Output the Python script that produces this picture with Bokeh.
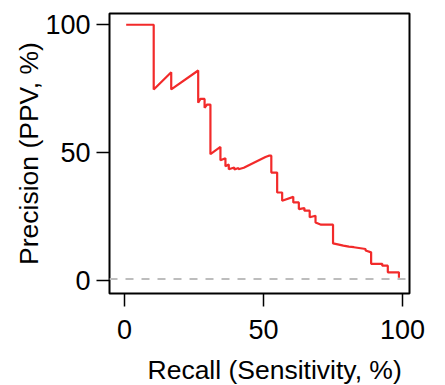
from bokeh.plotting import figure
from bokeh.models import FixedTicker, Span, Range1d, Title
from bokeh.embed import file_html
from bokeh.resources import INLINE

recall = [0.6, 10.5, 10.5, 16.8, 16.8, 26.5, 26.5, 27.3, 28.8, 28.8, 29.7, 30.9, 30.9,
          34.5, 34.5, 36.3, 36.3, 37.5, 37.5, 39.5, 39.5, 41.0, 41.0, 42.9, 50.7, 51.9,
          52.8, 52.8, 54.9, 54.9, 56.7, 56.7, 60.7, 60.7, 62.7, 62.7, 64.7, 64.7, 66.6,
          66.6, 68.7, 68.7, 70.7, 75.0, 75.0, 77.1, 78.7, 80.7, 82.5, 84.9, 86.7, 86.7,
          88.7, 88.7, 92.7, 92.7, 94.7, 94.7, 98.7, 98.7]
precision = [100.0, 100.0, 74.7, 81.4, 74.7, 82.1, 69.5, 71.0, 71.0, 67.5, 68.8, 68.8, 49.4,
             52.2, 47.0, 47.8, 44.7, 45.3, 43.5, 44.2, 43.4, 44.0, 43.5, 44.1, 48.3, 48.8,
             48.8, 42.2, 42.2, 34.4, 34.4, 31.2, 32.7, 30.5, 30.5, 27.9, 28.3, 27.3, 27.3,
             24.7, 25.3, 22.7, 21.8, 21.8, 14.5, 14.0, 13.6, 13.2, 13.0, 12.6, 12.3, 11.7,
             11.0, 6.5, 6.5, 5.8, 5.8, 3.2, 3.2, 1.1]
baseline = 0.6
x_ticks = [0, 50, 100]
y_ticks = [0, 50, 100]
x_label = "Recall (Sensitivity, %)"
y_label = "Precision (PPV, %)"

FONT = "Liberation Sans"

p = figure(width=430, height=384, output_backend="svg", toolbar_location=None,
           x_range=Range1d(-5.4, 102.5), y_range=Range1d(-5.1, 104.4),
           min_border_left=109, min_border_top=13, min_border_right=21, min_border_bottom=10)
p.frame_width = 300
p.frame_height = 280

p.line(recall, precision, line_color="#f22a2a", line_width=2.2)
p.add_layout(Span(location=baseline, dimension="width", line_color="#bdbdbd",
                  line_width=2, line_dash="8 8"))

p.xgrid.visible = False
p.ygrid.visible = False
p.outline_line_color = "black"
p.outline_line_width = 2
p.outline_line_alpha = 1

p.xaxis.ticker = FixedTicker(ticks=x_ticks)
p.yaxis.ticker = FixedTicker(ticks=y_ticks)
for ax in (p.xaxis[0], p.yaxis[0]):
    ax.axis_line_color = None
    ax.major_tick_in = 0
    ax.major_tick_out = 13
    ax.major_tick_line_color = "black"
    ax.major_tick_line_width = 1.5
    ax.minor_tick_line_color = None
    ax.major_label_text_font = FONT
    ax.major_label_text_font_size = "27px"
    ax.major_label_text_color = "black"
    ax.axis_label_text_font = FONT
    ax.axis_label_text_font_size = "26.5px"
    ax.axis_label_text_font_style = "normal"
    ax.axis_label_text_color = "black"

p.yaxis.axis_label = y_label
p.xaxis.major_label_standoff = 13
p.yaxis.major_label_standoff = 6
p.yaxis.axis_label_standoff = -2

xt = Title(text=x_label, align="left", offset=38, vertical_align="bottom",
           standoff=22, text_font=FONT, text_font_size="26.5px",
           text_font_style="normal", text_color="black")
p.add_layout(xt, "below")

open("out.html", "w").write(file_html(p, INLINE))
